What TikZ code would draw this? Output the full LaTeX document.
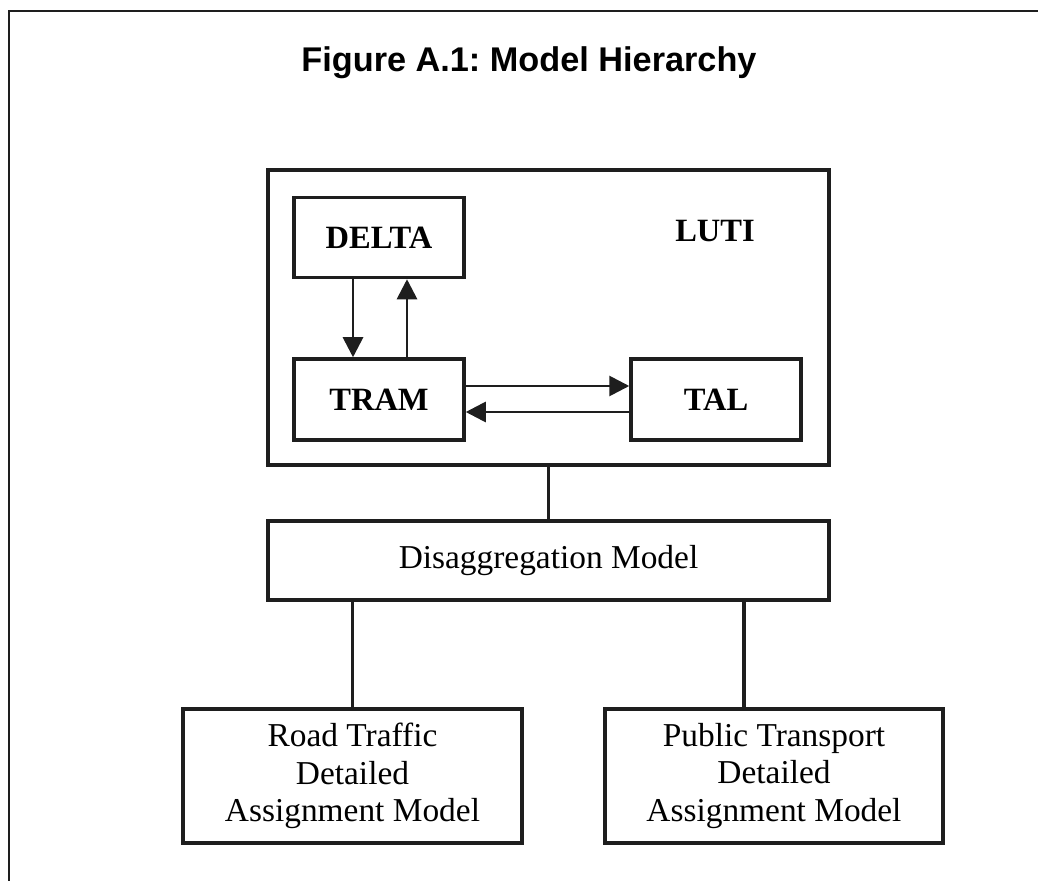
\documentclass[tikz,border=0pt]{standalone}
\usepackage{fontspec}
\setmainfont{Liberation Serif}
\newfontfamily\titlefont{Liberation Sans}
\usepackage{tikz}
\usetikzlibrary{calc,arrows.meta}
\usepackage{xcolor}
\definecolor{inkgray}{HTML}{1E1E1E}
\frenchspacing

\begin{document}
\begin{tikzpicture}[every node/.style={inner sep=0pt},
        modelbox/.style={draw=inkgray,line width=2pt,fill=white,align=center,
                         font=\fontsize{19}{21.5}\selectfont},
        flow/.style={draw=inkgray,line width=1.6pt,-{Triangle[length=4mm,width=4mm]}},
        link/.style={draw=inkgray,line width=1.8pt}]

            % page size and the frame along the top and left
            \useasboundingbox (0,0) rectangle (20.76,-17.62);
            \draw[draw=inkgray,line width=1.2pt] (0.18,-17.62) -- (0.18,-0.22) -- (20.76,-0.22);

            \node[font=\titlefont\bfseries\fontsize{19.5}{22}\selectfont] (title) at (10.58,-1.26) {Figure A.1: Model Hierarchy};

            % the LUTI group
            \node[modelbox,minimum width=11.22cm,minimum height=5.9cm] (luti) at (10.97,-6.35) {};
            \node[font=\bfseries\fontsize{18.5}{21.5}\selectfont] (lutilabel) at (14.3,-4.62) {LUTI};

            \node[modelbox,font=\bfseries\fontsize{18.5}{21.5}\selectfont,minimum width=3.4cm,minimum height=1.6cm] (delta) at (7.58,-4.75) {DELTA};
            \node[modelbox,font=\bfseries\fontsize{18.5}{21.5}\selectfont,minimum width=3.4cm,minimum height=1.62cm] (tram) at (7.58,-7.99) {TRAM};
            \node[modelbox,font=\bfseries\fontsize{18.5}{21.5}\selectfont,minimum width=3.4cm,minimum height=1.62cm] (tal) at (14.32,-7.99) {TAL};

            % arrows inside LUTI
            \coordinate (down) at ($(delta.south)+(-0.52,0)$);
            \coordinate (up) at ($(tram.north)+(0.56,0)$);
            \coordinate (right) at ($(tram.east)+(0,0.27)$);
            \coordinate (left) at ($(tal.west)+(0,-0.25)$);

            \draw[flow] (down) -- (down |- tram.north);
            \draw[flow] (up) -- (up |- delta.south);
            \draw[flow] (right) -- (right -| tal.west);
            \draw[flow] (left) -- (left -| tram.east);

            % lower levels
            \node[modelbox,minimum width=11.22cm,minimum height=1.58cm] (disagg) at (10.97,-11.21) {Disaggregation Model};

            \node[modelbox,minimum width=6.78cm,minimum height=2.68cm] (road) at (7.05,-15.52) {Road Traffic\\Detailed\\Assignment Model};
            \node[modelbox,minimum width=6.76cm,minimum height=2.68cm] (pt) at (15.48,-15.52) {Public Transport\\Detailed\\Assignment Model};

            \coordinate (ptjoin) at ($(pt.north)+(-0.6,0)$);

            \draw[link] (luti.south) -- (disagg.north);
            \draw[link] (road.north) -- (road.north |- disagg.south);
            \draw[link] (ptjoin) -- (ptjoin |- disagg.south);

\end{tikzpicture}
\end{document}
